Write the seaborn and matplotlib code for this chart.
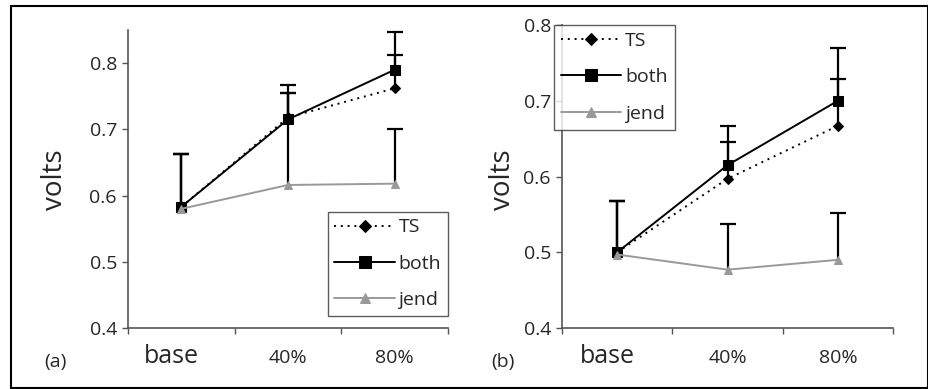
import numpy as np
import pandas as pd
import seaborn as sns
import matplotlib.pyplot as plt
import matplotlib.transforms as mtransforms
from matplotlib.patches import Rectangle

categories = ["base", "40%", "80%"]
series = ["TS", "both", "jend"]

# panel (a)
a_ts = [0.583, 0.718, 0.762]
a_both = [0.583, 0.715, 0.790]
a_jend = [0.580, 0.616, 0.618]
a_ts_err = [0.080, 0.037, 0.051]
a_both_err = [0.080, 0.052, 0.057]
a_jend_err = [0.083, 0.139, 0.082]

# panel (b)
b_ts = [0.500, 0.597, 0.667]
b_both = [0.500, 0.615, 0.700]
b_jend = [0.497, 0.477, 0.490]
b_ts_err = [0.068, 0.049, 0.062]
b_both_err = [0.068, 0.052, 0.070]
b_jend_err = [0.071, 0.060, 0.062]

sns.set_theme(style="ticks")
plt.rcParams['font.family'] = ['Open Sans', 'DejaVu Sans']

colors = {"TS": "black", "both": "black", "jend": "#999999"}
markers = {"TS": "D", "both": "s", "jend": "^"}
msizes = {"TS": 5.5, "both": 7, "jend": 6}


def draw_panel(ax, vals, errs, ylim, yticks):
    df = pd.DataFrame({
        "cond": categories * 3,
        "volts": vals[0] + vals[1] + vals[2],
        "group": ["TS"] * 3 + ["both"] * 3 + ["jend"] * 3,
    })
    for name in series:
        sub = df[df.group == name]
        sns.lineplot(data=sub, x="cond", y="volts", ax=ax, color=colors[name],
                     marker=markers[name], markersize=msizes[name],
                     markeredgecolor=colors[name], linewidth=1.4,
                     label=name, zorder=3)
        if name == "TS":
            ax.lines[-1].set_dashes((1, 2.5))
    x = np.arange(3)
    for name, v, e in zip(series, vals, errs):
        eb = ax.errorbar(x, v, yerr=[np.zeros(3), e], fmt="none", ecolor="black",
                         elinewidth=1.6, capsize=6, capthick=1.6, zorder=2)
        eb[1][0].set_visible(False)

    ax.set_xlim(-0.5, 2.5)
    ax.set_ylim(*ylim)
    ax.set_yticks(yticks)
    ax.set_yticklabels([f"{t:.1f}" for t in yticks], fontsize=14)
    ax.set_xticks([-0.5, 0.5, 1.5, 2.5])
    ax.set_xticklabels([])
    ax.set_xticks([0, 1, 2], minor=True)
    ax.set_xticklabels(categories, minor=True, fontsize=14)
    ax.tick_params(axis="x", which="minor", length=0, pad=15)
    ax.tick_params(axis="x", which="major", length=4, width=1, color="#555555")
    ax.tick_params(axis="y", length=4, width=1, color="#555555", pad=4)
    lab = ax.get_xticklabels(minor=True)[0]
    lab.set_fontsize(18)
    lab.set_transform(lab.get_transform() + mtransforms.ScaledTranslation(
        -0.1, 0.05, ax.figure.dpi_scale_trans))
    sns.despine(ax=ax)
    for s in ["left", "bottom"]:
        ax.spines[s].set_color("#555555")
        ax.spines[s].set_linewidth(1.2)
    ax.set_xlabel("")
    ax.set_ylabel("volts", fontsize=20)


fig = plt.figure(figsize=(9.29, 3.89), dpi=100)
ax1 = fig.add_axes([0.1378, 0.1568, 0.3444, 0.766])
ax2 = fig.add_axes([0.605, 0.1568, 0.3563, 0.7789])

draw_panel(ax1, [a_ts, a_both, a_jend], [a_ts_err, a_both_err, a_jend_err],
           (0.4, 0.85), [0.4, 0.5, 0.6, 0.7, 0.8])
draw_panel(ax2, [b_ts, b_both, b_jend], [b_ts_err, b_both_err, b_jend_err],
           (0.4, 0.8), [0.4, 0.5, 0.6, 0.7, 0.8])

ax1.yaxis.set_label_coords(-0.183, 0.497)
ax2.yaxis.set_label_coords(-0.135, 0.488)

for ax, loc, anchor in [(ax1, "lower right", (1.0, 0.04)),
                        (ax2, "upper left", (-0.024, 1.0))]:
    leg = ax.legend(loc=loc, bbox_to_anchor=anchor, borderaxespad=0,
                    fancybox=False, frameon=True, fontsize=14,
                    handlelength=3.1, handletextpad=0.2, labelspacing=0.95,
                    borderpad=0.35, markerscale=1.2)
    leg.get_frame().set_edgecolor("#333333")
    leg.get_frame().set_linewidth(1.0)

fig.text(55 / 929, 1 - 362 / 389, "(a)", fontsize=14, ha="center", va="center")
fig.text(503 / 929, 1 - 362 / 389, "(b)", fontsize=14, ha="center", va="center")

fig.patches.append(Rectangle((11 / 929, 1 - 388 / 389), 917 / 929, 382 / 389,
                             transform=fig.transFigure, fill=False,
                             edgecolor="black", linewidth=1.5))

fig.savefig("out.png", dpi=100)
